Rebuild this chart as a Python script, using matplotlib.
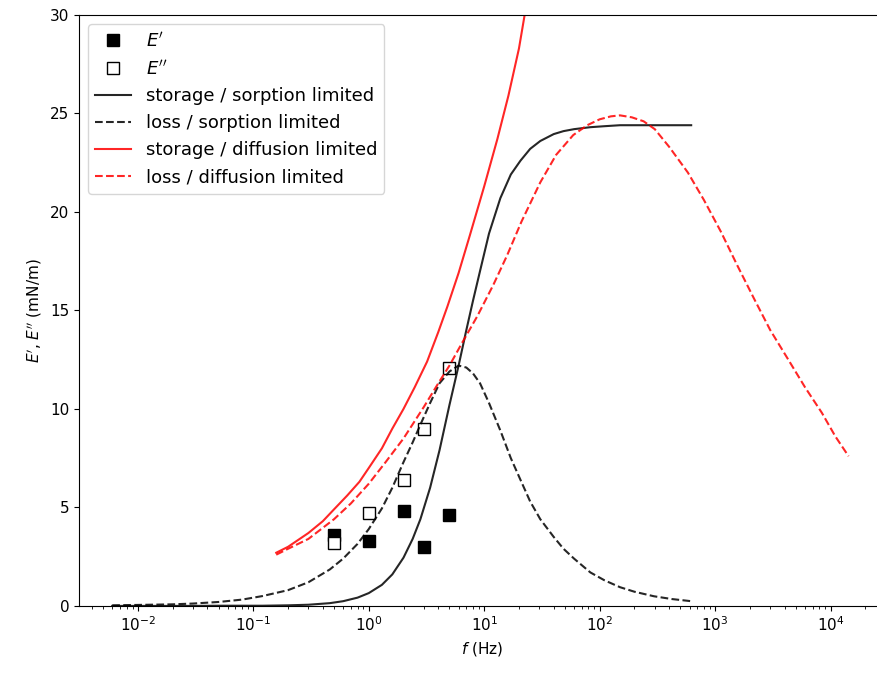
import numpy as np
import matplotlib
matplotlib.use('Agg')
import matplotlib.pyplot as plt

# measured moduli (mN/m)
f_meas = [0.5, 1, 2, 3, 5]
E_storage = [3.6, 3.3, 4.8, 3.0, 4.6]
E_loss = [3.2, 4.7, 6.4, 9.0, 12.1]

# sorption limited model
f_sorp = [0.006, 0.01, 0.02, 0.03, 0.05, 0.08, 0.12, 0.2, 0.3, 0.46, 0.6, 0.8, 1.0, 1.3,
          1.6, 2.0, 2.4, 2.8, 3.4, 4.1, 5.0, 6.0, 7.0, 8.0, 9.2, 11, 13.8, 17, 20.6, 25,
          30.6, 40, 48.6, 60, 83, 110, 150, 200, 295, 420, 620]
sorp_storage = [0.0, 0.0, 0.0, 0.0, 0.01, 0.01, 0.01, 0.03, 0.06, 0.14, 0.24, 0.42, 0.65, 1.07,
                1.6, 2.45, 3.4, 4.4, 6.0, 7.9, 10.2, 12.2, 14.0, 15.5, 17.0, 18.9, 20.7, 21.9, 22.6, 23.2,
                23.6, 23.95, 24.1, 24.2, 24.3, 24.35, 24.4, 24.4, 24.4, 24.4, 24.4]
sorp_loss = [0.03, 0.05, 0.08, 0.12, 0.2, 0.32, 0.5, 0.8, 1.2, 1.85, 2.4, 3.15, 3.9, 4.95,
             6.0, 7.3, 8.3, 9.2, 10.3, 11.3, 11.9, 12.2, 12.1, 11.8, 11.3, 10.3, 8.9, 7.5, 6.4, 5.3,
             4.4, 3.5, 2.9, 2.4, 1.7, 1.3, 0.95, 0.72, 0.49, 0.35, 0.24]

# diffusion limited model
f_diff_s = [0.158, 0.2, 0.3, 0.4, 0.5, 0.65, 0.83, 1.0, 1.3, 1.6, 2.0, 2.5, 3.2, 4.0, 4.8,
            6.0, 7.5, 10, 13, 16.2, 20, 23]
diff_storage = [2.7, 3.0, 3.7, 4.3, 4.9, 5.6, 6.3, 7.0, 8.0, 9.0, 10.0, 11.1, 12.4, 13.9, 15.2,
                16.9, 18.8, 21.3, 23.7, 25.9, 28.3, 30.4]
f_diff_l = [0.158, 0.2, 0.3, 0.5, 0.7, 1.0, 1.4, 2.0, 3.0, 4.0, 5.0, 6.5, 8.7, 12, 15.8,
            21, 30.6, 42, 59, 78, 100, 125, 150, 190, 240, 300, 400, 580, 800, 1120,
            1550, 2170, 3000, 4300, 6000, 8400, 11000, 14300]
diff_loss = [2.6, 2.9, 3.4, 4.4, 5.2, 6.2, 7.3, 8.5, 10.1, 11.3, 12.2, 13.4, 14.7, 16.3, 17.8,
             19.5, 21.5, 22.9, 23.9, 24.4, 24.7, 24.85, 24.9, 24.8, 24.6, 24.2, 23.3, 22.0, 20.6, 19.0,
             17.3, 15.6, 14.0, 12.5, 11.1, 9.8, 8.6, 7.6]

plt.rcParams['font.size'] = 11

fig = plt.figure(figsize=(8.77, 6.77), dpi=100)
ax = fig.add_axes([0.090, 0.105, 0.919, 0.873])

ax.plot(f_meas, E_storage, 's', color='k', markersize=8, label="$E'$")
ax.plot(f_meas, E_loss, 's', color='k', markerfacecolor='white', markersize=8, label="$E''$")
ax.plot(f_sorp, sorp_storage, '-', color='k', lw=1.5, alpha=0.85, label='storage / sorption limited')
ax.plot(f_sorp, sorp_loss, '--', color='k', lw=1.5, alpha=0.85, label='loss / sorption limited')
ax.plot(f_diff_s, diff_storage, '-', color='r', lw=1.5, alpha=0.85, label='storage / diffusion limited')
ax.plot(f_diff_l, diff_loss, '--', color='r', lw=1.5, alpha=0.85, label='loss / diffusion limited')

ax.set_xscale('log')
ax.set_xlim(10 ** -2.51, 10 ** 4.47)
ax.set_ylim(0, 30)
ax.set_xlabel('$f$ (Hz)')
ax.set_ylabel("$E'$, $E''$ (mN/m)")
ax.legend(loc='upper left', fontsize=13)

fig.savefig('out.png', dpi=100)
